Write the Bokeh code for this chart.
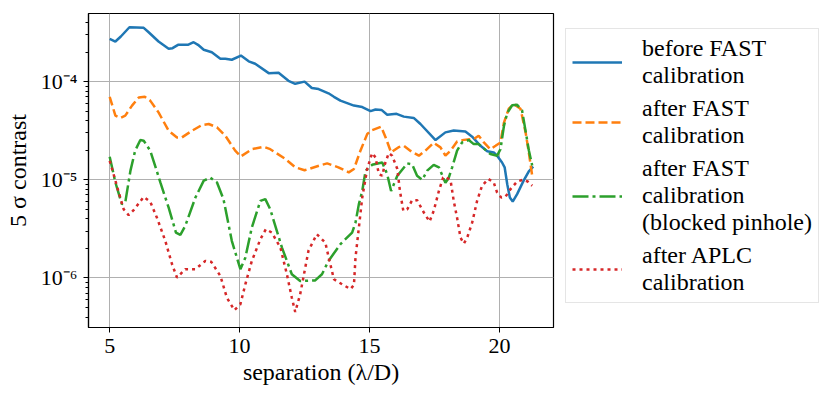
from bokeh.plotting import figure
from bokeh.models import Legend, LegendItem, FixedTicker, Range1d
from bokeh.layouts import row
from bokeh.embed import file_html
from bokeh.resources import INLINE

# ---------------- data ----------------
before_x = [5.00, 5.22, 5.43, 5.76, 6.31, 6.50, 6.88, 7.27, 7.42, 7.63, 8.01, 8.23, 8.40, 8.62,
            8.93, 9.26, 9.45, 9.70, 10.05, 10.35, 10.60, 11.12, 11.50, 11.88, 12.14, 12.50,
            12.78, 13.04, 13.42, 13.63, 13.88, 14.40, 14.72, 15.04, 15.23, 15.46, 15.68,
            16.04, 16.32, 16.70, 16.96, 17.54, 17.92, 18.24, 18.69, 18.95, 19.27, 19.53,
            19.78, 19.91, 20.10, 20.20, 20.30, 20.40, 20.51, 20.68, 20.93, 21.13, 21.30]
before_y = [2.73e-4, 2.56e-4, 2.88e-4, 3.58e-4, 3.53e-4, 3.18e-4, 2.56e-4, 2.16e-4, 2.19e-4,
            2.37e-4, 2.37e-4, 2.52e-4, 2.37e-4, 2.11e-4, 1.99e-4, 1.71e-4, 1.71e-4, 1.67e-4,
            1.84e-4, 1.61e-4, 1.52e-4, 1.22e-4, 1.23e-4, 1.02e-4, 9.5e-5, 1.0e-4, 8.6e-5,
            8.4e-5, 7.6e-5, 7.0e-5, 6.4e-5, 5.7e-5, 5.5e-5, 5.0e-5, 5.2e-5, 5.15e-5, 4.6e-5,
            4.7e-5, 4.4e-5, 4.27e-5, 3.7e-5, 2.54e-5, 3.04e-5, 3.18e-5, 3.11e-5, 2.75e-5,
            2.22e-5, 1.95e-5, 1.90e-5, 1.76e-5, 1.50e-5, 1.34e-5, 9.0e-6, 6.6e-6, 6.0e-6,
            7.15e-6, 9.8e-6, 1.22e-5, 1.36e-5]

after_x = [5.00, 5.22, 5.41, 5.60, 5.86, 6.12, 6.35, 6.56, 6.88, 7.27, 7.59, 7.78, 8.17, 8.55,
           8.81, 9.13, 9.45, 9.83, 10.05, 10.47, 10.92, 11.18, 11.76, 12.14, 12.50, 13.17,
           13.37, 13.80, 14.20, 14.40, 14.65, 14.91, 15.10, 15.45, 15.62, 15.83, 16.12,
           16.32, 16.58, 16.90, 17.15, 17.47, 17.73, 17.92, 18.12, 18.37, 18.63, 19.01,
           19.20, 19.40, 19.65, 19.85, 20.04, 20.17, 20.36, 20.55, 20.81, 21.01, 21.13, 21.26]
after_y = [7.0e-5, 4.5e-5, 4.27e-5, 4.5e-5, 5.7e-5, 6.9e-5, 7.0e-5, 6.4e-5, 4.86e-5, 3.16e-5,
           2.70e-5, 2.70e-5, 3.16e-5, 3.61e-5, 3.70e-5, 3.42e-5, 2.81e-5, 1.98e-5, 1.73e-5,
           2.05e-5, 2.17e-5, 2.05e-5, 1.63e-5, 1.34e-5, 1.25e-5, 1.42e-5, 1.47e-5, 1.34e-5,
           1.19e-5, 1.29e-5, 1.98e-5, 2.92e-5, 3.2e-5, 3.47e-5, 2.70e-5, 1.90e-5, 2.15e-5,
           2.22e-5, 1.97e-5, 1.76e-5, 1.98e-5, 2.38e-5, 2.14e-5, 1.76e-5, 1.98e-5, 2.45e-5,
           2.55e-5, 2.60e-5, 2.81e-5, 2.40e-5, 2.05e-5, 2.22e-5, 2.40e-5, 3.8e-5, 5.3e-5,
           5.9e-5, 5.3e-5, 3.0e-5, 1.9e-5, 1.1e-5]

pinhole_x = [5.00, 5.22, 5.47, 5.60, 5.80, 5.98, 6.18, 6.31, 6.56, 6.80, 6.95, 7.27, 7.55,
             7.72, 7.91, 8.30, 8.62, 8.87, 9.13, 9.38, 9.70, 10.03, 10.22, 10.47, 10.80,
             10.99, 11.18, 11.63, 12.01, 12.33, 12.91, 13.17, 13.42, 13.88, 14.33, 14.46,
             14.59, 14.72, 14.85, 15.10, 15.49, 15.68, 15.83, 16.07, 16.45, 16.64, 16.83,
             17.03, 17.22, 17.47, 17.67, 17.92, 18.05, 18.18, 18.37, 18.56, 18.82, 19.01,
             19.20, 19.65, 19.91, 20.04, 20.17, 20.30, 20.49, 20.68, 20.87, 21.00, 21.13, 21.26]
pinhole_y = [1.72e-5, 9.4e-6, 5.65e-6, 5.9e-6, 1.24e-5, 1.98e-5, 2.54e-5, 2.50e-5, 1.98e-5,
             1.26e-5, 9.4e-6, 5.2e-6, 2.9e-6, 2.75e-6, 3.4e-6, 6.6e-6, 9.8e-6, 1.05e-5, 9.4e-6,
             6.35e-6, 2.39e-6, 1.23e-6, 1.61e-6, 3.26e-6, 6.1e-6, 6.35e-6, 5.0e-6, 2.04e-6,
             1.09e-6, 9.3e-7, 9.45e-7, 1.09e-6, 1.49e-6, 2.21e-6, 2.9e-6, 3.66e-6, 5.65e-6,
             7.7e-6, 1.24e-5, 1.42e-5, 1.50e-5, 1.14e-5, 7.7e-6, 1.10e-5, 1.47e-5, 1.44e-5,
             1.10e-5, 1.0e-5, 1.24e-5, 1.42e-5, 1.34e-5, 9.3e-6, 1.05e-5, 1.34e-5, 1.98e-5,
             2.40e-5, 2.54e-5, 2.31e-5, 2.31e-5, 1.83e-5, 1.76e-5, 2.05e-5, 3.5e-5, 4.8e-5,
             5.75e-5, 5.8e-5, 5.1e-5, 3.2e-5, 2.0e-5, 1.4e-5]

aplc_x = [5.00, 5.15, 5.35, 5.54, 5.73, 5.92, 6.31, 6.56, 6.82, 7.14, 7.40, 7.59, 7.91, 8.30,
          8.68, 8.91, 9.26, 9.51, 9.80, 10.03, 10.22, 10.47, 10.80, 11.01, 11.24, 11.57, 11.82,
          12.01, 12.14, 12.33, 12.65, 12.97, 13.30, 13.43, 13.63, 13.95, 14.27, 14.40, 14.46,
          14.59, 14.72, 14.91, 15.10, 15.23, 15.36, 15.49, 15.59, 15.74, 15.87, 16.07, 16.17,
          16.30, 16.45, 16.64, 16.83, 17.09, 17.31, 17.47, 17.67, 17.83, 17.92, 18.12, 18.24,
          18.37, 18.50, 18.63, 18.76, 18.95, 19.14, 19.33, 19.57, 19.78, 19.91, 20.07, 20.23,
          20.42, 20.68, 20.91, 21.09, 21.26]
aplc_y = [1.56e-5, 1.14e-5, 7.4e-6, 5.0e-6, 4.37e-6, 4.9e-6, 6.7e-6, 6.0e-6, 4.1e-6, 2.39e-6,
          1.38e-6, 1.01e-6, 1.23e-6, 1.23e-6, 1.49e-6, 1.46e-6, 1.05e-6, 6.3e-7, 4.7e-7, 5.4e-7,
          8.6e-7, 1.49e-6, 2.48e-6, 3.14e-6, 2.9e-6, 2.04e-6, 1.09e-6, 6.3e-7, 4.5e-7, 6.8e-7,
          1.89e-6, 2.79e-6, 2.29e-6, 1.61e-6, 9.7e-7, 8.6e-7, 7.7e-7, 8.5e-7, 1.61e-6, 3.26e-6,
          6.6e-6, 1.29e-5, 1.87e-5, 1.69e-5, 1.14e-5, 1.10e-5, 1.44e-5, 1.87e-5, 1.76e-5,
          1.29e-5, 7.7e-6, 4.83e-6, 5.0e-6, 6.2e-6, 6.2e-6, 4.64e-6, 3.75e-6, 4.83e-6, 7.7e-6,
          1.05e-5, 1.08e-5, 9.8e-6, 6.1e-6, 4.1e-6, 2.58e-6, 2.24e-6, 2.58e-6, 3.66e-6, 6.1e-6,
          8.7e-6, 1.02e-5, 9.4e-6, 7.4e-6, 6.6e-6, 6.7e-6, 8.0e-6, 9.6e-6, 1.0e-5, 9.6e-6, 8.7e-6]

labels = ["before FAST\ncalibration", "after FAST\ncalibration",
          "after FAST\ncalibration\n(blocked pinhole)", "after APLC\ncalibration"]
x_ticks = [5, 10, 15, 20]
y_ticks = [1e-6, 1e-5, 1e-4]
y_tick_labels = ["10\u207b\u2076", "10\u207b\u2075", "10\u207b\u2074"]

FONT = "Liberation Serif"
COLORS = ["#1f77b4", "#ff7f0e", "#2ca02c", "#d62728"]
DASHES = ["solid", "9 4", "16 4 3 4", "3 4"]
LW = 2.5

series = [(before_x, before_y), (after_x, after_y), (pinhole_x, pinhole_y), (aplc_x, aplc_y)]

# ---------------- main plot ----------------
p = figure(width=556, height=396, y_axis_type="log",
           x_range=Range1d(4.185, 22.08), y_range=Range1d(3.13e-7, 4.94e-4),
           output_backend="svg", toolbar_location=None,
           min_border_left=88, min_border_right=3, min_border_top=13, min_border_bottom=69)

p.background_fill_color = "white"
p.border_fill_color = "white"
p.outline_line_color = "black"
p.outline_line_width = 1.2
p.outline_line_alpha = 1.0

for (xs, ys), c, d in zip(series, COLORS, DASHES):
    p.line(xs, ys, line_color=c, line_width=LW, line_dash=d)

minor = []
for e in [1e-7, 1e-6, 1e-5, 1e-4]:
    for m in range(2, 10):
        minor.append(m * e)

p.xaxis.ticker = FixedTicker(ticks=x_ticks)
p.yaxis.ticker = FixedTicker(ticks=y_ticks, minor_ticks=minor)
p.yaxis.major_label_overrides = {t: s for t, s in zip(y_ticks, y_tick_labels)}

for ax in [p.xaxis[0], p.yaxis[0]]:
    ax.axis_line_color = "black"
    ax.axis_line_width = 1.2
    ax.major_tick_line_color = "black"
    ax.minor_tick_line_color = "black"
    ax.major_tick_out = 5
    ax.major_tick_in = 0
    ax.minor_tick_out = 3
    ax.minor_tick_in = 0
    ax.major_label_text_font = FONT
    ax.major_label_text_font_size = "22px"
    ax.major_label_text_color = "black"
    ax.axis_label_text_font = FONT
    ax.axis_label_text_font_size = "24px"
    ax.axis_label_text_font_style = "normal"
    ax.axis_label_text_color = "black"
p.xaxis.minor_tick_line_color = None
p.xaxis.axis_label = "separation (\u03bb/D)"
p.yaxis.axis_label = "5 \u03c3 contrast"
p.xaxis.major_label_standoff = 6
p.yaxis.major_label_standoff = 6
p.xaxis.axis_label_standoff = 3
p.yaxis.axis_label_standoff = 7

p.xgrid.ticker = FixedTicker(ticks=x_ticks)
p.ygrid.ticker = FixedTicker(ticks=y_ticks)
for g in [p.xgrid[0], p.ygrid[0]]:
    g.grid_line_color = "#b0b0b0"
    g.grid_line_width = 1

# ---------------- legend panel (ranges chosen so its copies of the lines stay hidden) ----------------
q = figure(width=274, height=396, output_backend="svg", toolbar_location=None,
           x_range=Range1d(100, 101), y_range=Range1d(100, 101),
           x_axis_location=None, y_axis_location=None,
           min_border_left=0, min_border_right=0, min_border_top=13, min_border_bottom=69)
q.outline_line_color = None
q.xgrid.visible = False
q.ygrid.visible = False
q.background_fill_color = "white"
q.border_fill_color = "white"

items = []
for lab, (xs, ys), c, d in zip(labels, series, COLORS, DASHES):
    r = q.line(xs, ys, line_color=c, line_width=LW, line_dash=d)
    items.append(LegendItem(label=lab, renderers=[r]))

legend = Legend(items=items, location=(9, 24))
legend.margin = 0
legend.label_text_font = FONT
legend.label_text_font_size = "24px"
legend.label_text_line_height = 0.97
legend.label_text_color = "black"
legend.glyph_width = 50
legend.label_standoff = 20
legend.padding = 6
legend.spacing = 6
legend.border_line_color = "#cccccc"
legend.border_line_width = 1
legend.background_fill_alpha = 1.0
q.add_layout(legend, "center")

open("out.html", "w").write(file_html(row(p, q), INLINE))
